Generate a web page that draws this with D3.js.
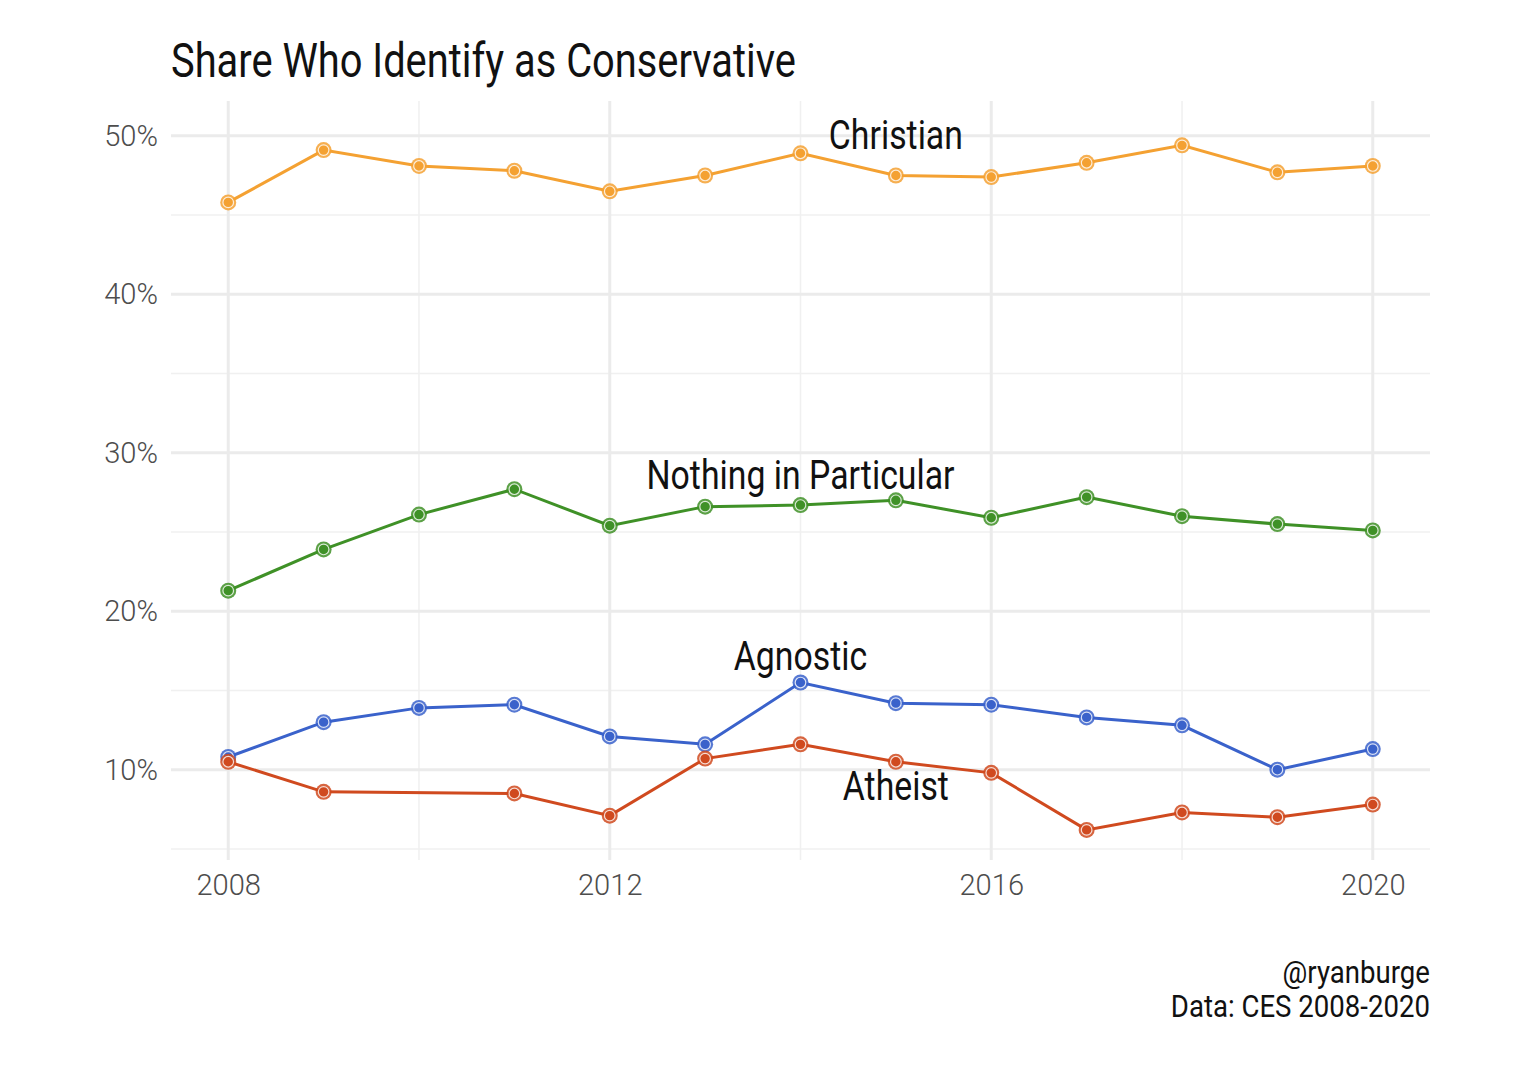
<!DOCTYPE html>
<html lang="en">
<head>
    <meta charset="utf-8">
    <title>index.html</title>
    <script type="text/javascript" src="https://cdnjs.cloudflare.com/ajax/libs/d3/7.8.5/d3.min.js"></script>
    <style>
      body { margin: 0; background: #fff; }
      text { font-family: Roboto, "DejaVu Sans", sans-serif; }
    </style>
</head>
<body>
    <script type="text/javascript">
    // data
    var years = [2008, 2009, 2010, 2011, 2012, 2013, 2014, 2015, 2016, 2017, 2018, 2019, 2020];
    var christian = [45.8, 49.1, 48.1, 47.8, 46.5, 47.5, 48.9, 47.5, 47.4, 48.3, 49.4, 47.7, 48.1];
    var nothing   = [21.3, 23.9, 26.1, 27.7, 25.4, 26.6, 26.7, 27.0, 25.9, 27.2, 26.0, 25.5, 25.1];
    var agnostic  = [10.8, 13.0, 13.9, 14.1, 12.1, 11.6, 15.5, 14.2, 14.1, 13.3, 12.8, 10.0, 11.3];
    var atheist   = [10.5, 8.6, null, 8.5, 7.1, 10.7, 11.6, 10.5, 9.8, 6.2, 7.3, 7.0, 7.8];
    var seriesNames = ["Christian", "Nothing in Particular", "Agnostic", "Atheist"];
    var seriesColors = ["#f4a132", "#3f9127", "#3a62cb", "#d04a1f"];
    // label anchor points (year, value)
    var labelYears = [2015, 2014, 2014, 2015];
    var labelValues = [50.1, 28.6, 17.2, 9.0];
    var xTicks = [2008, 2012, 2016, 2020];
    var yTicks = [10, 20, 30, 40, 50];
    var yMinor = [5, 15, 25, 35, 45];

    var W = 1520, H = 1082;
    var margin = {top: 101, right: 90, bottom: 222, left: 171};

    var svg = d3.select("body").append("svg")
        .attr("width", W)
        .attr("height", H);

    // the original face is a narrow one; squeeze the text to its width
    function squeeze(sel, k) {
        sel.each(function() {
            var len = this.getComputedTextLength();
            d3.select(this)
              .attr("textLength", len * k)
              .attr("lengthAdjust", "spacingAndGlyphs");
        });
    }

    var x = d3.scaleLinear()
        .domain([2007.4, 2020.6])
        .range([margin.left, W - margin.right]);

    var y = d3.scaleLinear()
        .domain([4.3, 52.2])
        .range([H - margin.bottom, margin.top]);

    var grid = svg.append("g");

    // minor gridlines
    grid.selectAll(".minor").data(yMinor).enter().append("line")
        .attr("x1", margin.left).attr("x2", W - margin.right)
        .attr("y1", function(d) { return y(d); })
        .attr("y2", function(d) { return y(d); })
        .attr("stroke", "#f0f0f0").attr("stroke-width", 1.5);

    grid.selectAll(".vminor").data([2010, 2014, 2018]).enter().append("line")
        .attr("x1", function(d) { return x(d); })
        .attr("x2", function(d) { return x(d); })
        .attr("y1", margin.top).attr("y2", H - margin.bottom)
        .attr("stroke", "#f0f0f0").attr("stroke-width", 1.5);

    // major gridlines
    grid.selectAll(".major").data(yTicks).enter().append("line")
        .attr("x1", margin.left).attr("x2", W - margin.right)
        .attr("y1", function(d) { return y(d); })
        .attr("y2", function(d) { return y(d); })
        .attr("stroke", "#ebebeb").attr("stroke-width", 3);

    grid.selectAll(".vmajor").data(xTicks).enter().append("line")
        .attr("x1", function(d) { return x(d); })
        .attr("x2", function(d) { return x(d); })
        .attr("y1", margin.top).attr("y2", H - margin.bottom)
        .attr("stroke", "#ebebeb").attr("stroke-width", 3);

    // axes (text only, like theme_minimal)
    var xAxis = svg.append("g")
        .attr("transform", "translate(0," + (H - margin.bottom) + ")")
        .call(d3.axisBottom(x).tickValues(xTicks).tickFormat(d3.format("d")).tickSize(0).tickPadding(14));
    xAxis.select(".domain").remove();

    var yAxis = svg.append("g")
        .attr("transform", "translate(" + margin.left + ",0)")
        .call(d3.axisLeft(y).tickValues(yTicks).tickFormat(function(d) { return d + "%"; }).tickSize(0).tickPadding(13));
    yAxis.select(".domain").remove();

    svg.selectAll(".tick text")
        .attr("font-family", null)
        .attr("font-size", 30)
        .attr("font-weight", 300)
        .attr("fill", "#4d4d4d")
        .call(squeeze, 0.97);

    var allSeries = [christian, nothing, agnostic, atheist];

    var line = d3.line()
        .x(function(d) { return x(d.year); })
        .y(function(d) { return y(d.v); });

    allSeries.forEach(function(vals, i) {
        var pts = years.map(function(yr, j) { return {year: yr, v: vals[j]}; });
        var col = seriesColors[i];
        var drawn = pts.filter(function(d) { return d.v != null; });

        var g = svg.append("g");
        g.append("path")
            .datum(drawn)
            .attr("fill", "none")
            .attr("stroke", col)
            .attr("stroke-width", 3)
            .attr("d", line);

        g.selectAll(".outer").data(drawn).enter().append("circle")
            .attr("cx", function(d) { return x(d.year); })
            .attr("cy", function(d) { return y(d.v); })
            .attr("r", 8)
            .attr("fill", col)
            .attr("fill-opacity", 0.85);

        g.selectAll(".inner").data(drawn).enter().append("circle")
            .attr("cx", function(d) { return x(d.year); })
            .attr("cy", function(d) { return y(d.v); })
            .attr("r", 5.3)
            .attr("fill", col)
            .attr("stroke", "#fff")
            .attr("stroke-opacity", 0.8)
            .attr("stroke-width", 1.2);

        svg.append("text")
            .attr("x", x(labelYears[i]))
            .attr("y", y(labelValues[i]))
            .attr("dy", "0.36em")
            .attr("text-anchor", "middle")
            .attr("font-size", 40)
            .attr("fill", "#111")
            .text(seriesNames[i])
            .call(squeeze, 0.845);
    });

    // title
    svg.append("text")
        .attr("x", 171)
        .attr("y", 77)
        .attr("font-size", 48)
        .attr("fill", "#111")
        .text("Share Who Identify as Conservative")
        .call(squeeze, 0.83);

    // caption
    var caption = ["@ryanburge", "Data: CES 2008-2020"];
    svg.selectAll(".caption").data(caption).enter().append("text")
        .attr("x", W - margin.right)
        .attr("y", function(d, i) { return 983 + i * 34; })
        .attr("text-anchor", "end")
        .attr("font-size", 31)
        .attr("fill", "#111")
        .text(function(d) { return d; })
        .call(squeeze, 0.89);
    </script>
</body>
</html>
